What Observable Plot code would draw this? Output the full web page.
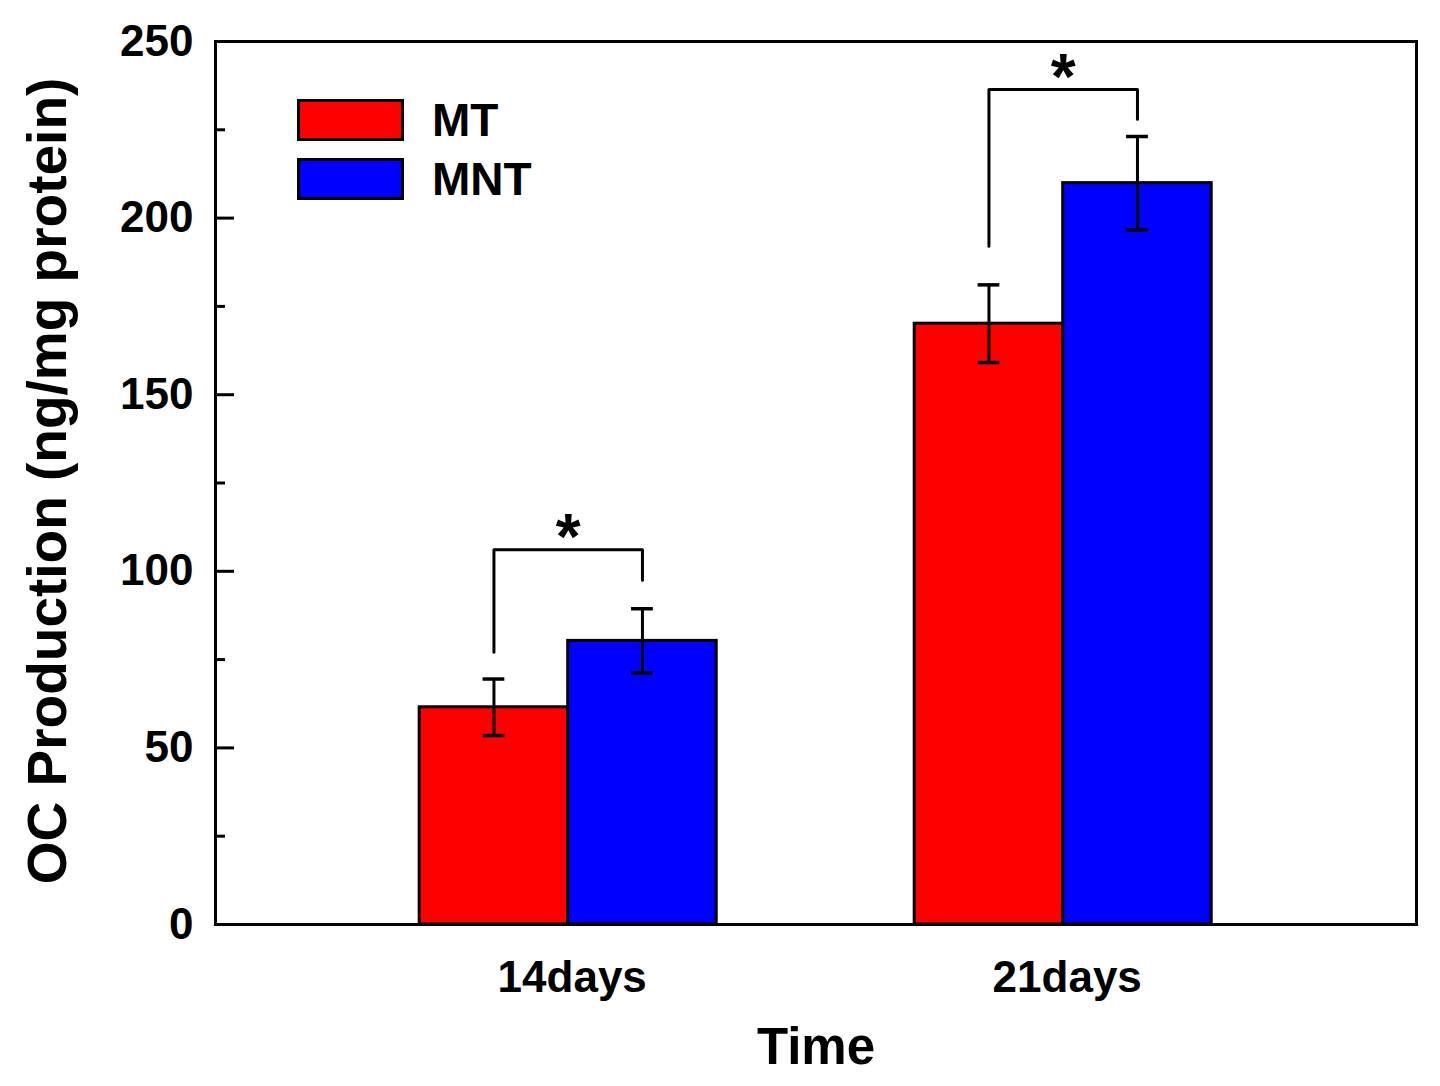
<!DOCTYPE html>
<html>
<head>
<meta charset="utf-8">
<script src="https://cdn.jsdelivr.net/npm/d3@7"></script>
<script src="https://cdn.jsdelivr.net/npm/@observablehq/plot@0.6"></script>
<style>
  html, body { margin: 0; padding: 0; background: #fff; }
  #wrap { position: relative; width: 1440px; height: 1086px; font-family: "Liberation Sans", Arial, sans-serif; }
  #legend { position: absolute; left: 297px; top: 99px; }
  .row { display: flex; align-items: center; height: 42px; margin-bottom: 17px; }
  .swatch { width: 107px; height: 42px; box-sizing: border-box; border: 3px solid #000; }
  .lab { margin-left: 28px; font-size: 46px; font-weight: bold; color: #000; line-height: 42px; }
</style>
</head>
<body>
<div id="wrap"><div id="chart"></div><div id="legend"></div></div>
<script>
// ---- data ----
const times = ["14days", "21days"];
const series = ["MT", "MNT"];
const colors = ["#ff0000", "#0000ff"];
const mtValues = [61.5, 170.1];
const mntValues = [80.3, 209.9];
const mtErrors = [8.0, 11.0];
const mntErrors = [9.1, 13.2];
const sigTop = [106.1, 236.4];
const sigLeftBottom = [77.1, 192.0];
const sigRightBottom = [97.5, 228.0];
const sigLabels = ["*", "*"];
const yTicks = [0, 50, 100, 150, 200, 250];
const yMinorTicks = [25, 75, 125, 175, 225];
const xLabel = "Time";
const yLabel = "OC Production (ng/mg protein)";

// ---- build table ----
const half = 0.3;      // bar width in group units
const capHalf = 0.022; // error cap half width
const rows = [];
times.forEach((t, i) => {
  rows.push({time: t, i, series: "MT", value: mtValues[i], err: mtErrors[i], x1: i - half, x2: i, xc: i - half / 2});
  rows.push({time: t, i, series: "MNT", value: mntValues[i], err: mntErrors[i], x1: i, x2: i + half, xc: i + half / 2});
});
const brackets = [];
times.forEach((t, i) => {
  brackets.push({k: i, x: i - half / 2, y: sigLeftBottom[i]});
  brackets.push({k: i, x: i - half / 2, y: sigTop[i]});
  brackets.push({k: i, x: i + half / 2, y: sigTop[i]});
  brackets.push({k: i, x: i + half / 2, y: sigRightBottom[i]});
});
const stars = times.map((t, i) => ({x: i, y: sigTop[i], label: sigLabels[i]}));

const font = "'Liberation Sans', Arial, sans-serif";

const chart = Plot.plot({
  width: 1440,
  height: 1086,
  marginLeft: 215,
  marginRight: 24,
  marginTop: 41,
  marginBottom: 162,
  style: {background: "#fff", fontFamily: font, color: "#000"},
  x: {domain: [-0.7125, 1.7137], axis: null},
  y: {domain: [0, 250], axis: null},
  color: {domain: series, range: colors},
  marks: [
    Plot.rectY(rows, {x1: "x1", x2: "x2", y: "value", fill: "series", stroke: "#000", strokeWidth: 3}),
    Plot.ruleX(rows, {x: "xc", y1: d => d.value - d.err, y2: d => d.value + d.err, stroke: "#000", strokeWidth: 3}),
    Plot.ruleY(rows, {y: d => d.value + d.err, x1: d => d.xc - capHalf, x2: d => d.xc + capHalf, stroke: "#000", strokeWidth: 3.5}),
    Plot.ruleY(rows, {y: d => d.value - d.err, x1: d => d.xc - capHalf, x2: d => d.xc + capHalf, stroke: "#000", strokeWidth: 3.5}),
    Plot.line(brackets, {x: "x", y: "y", z: "k", stroke: "#000", strokeWidth: 3, strokeLinecap: "round", strokeLinejoin: "round"}),
    Plot.text(stars, {x: "x", y: "y", text: "label", dy: -11, fontSize: 64, fontWeight: "bold", lineAnchor: "middle", fill: "#000"}),
    Plot.frame({stroke: "#000", strokeWidth: 3}),
    Plot.axisY({ticks: yTicks, tickSize: -19, text: null, strokeWidth: 3, label: null}),
    Plot.axisY({ticks: yMinorTicks, tickSize: -10, text: null, strokeWidth: 3, label: null}),
    Plot.axisY({ticks: yTicks, tickSize: 0, tickPadding: 22, fontSize: 44, fontWeight: "bold", label: null, fill: "#000"}),
    Plot.axisX({ticks: [0, 1], tickFormat: d => times[d], tickSize: 0, tickPadding: 36, fontSize: 44, fontWeight: "bold", label: null, dx: 4, fill: "#000"}),
    Plot.text([xLabel], {frameAnchor: "bottom", dy: 139, lineAnchor: "bottom", fontSize: 51, fontWeight: "bold", fill: "#000"}),
    Plot.text([yLabel], {frameAnchor: "left", textAnchor: "middle", rotate: -90, dx: -150, dy: -2, lineAnchor: "bottom", fontSize: 55, fontWeight: "bold", fill: "#000"})
  ]
});
document.getElementById("chart").appendChild(chart);

// ---- legend ----
const legend = d3.select("#legend");
series.forEach((s, i) => {
  const r = legend.append("div").attr("class", "row");
  r.append("div").attr("class", "swatch").style("background", colors[i]);
  r.append("div").attr("class", "lab").text(s);
});
</script>
</body>
</html>
